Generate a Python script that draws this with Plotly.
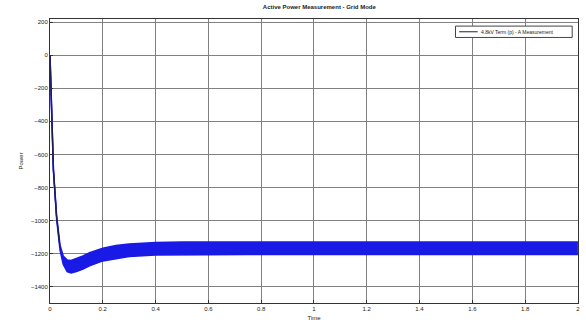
import plotly.graph_objects as go

time_s = [0.0, 0.013, 0.025, 0.038, 0.05, 0.065, 0.08, 0.1, 0.125, 0.15, 0.2, 0.25, 0.3, 0.4, 0.5, 0.75, 1.0, 1.5, 2.0]
power_upper = [0, -690, -970, -1150, -1215, -1240, -1242, -1232, -1215, -1195, -1168, -1152, -1142, -1133, -1130, -1130, -1130, -1130, -1130]
power_lower = [0, -700, -990, -1180, -1265, -1310, -1318, -1310, -1295, -1275, -1245, -1230, -1218, -1210, -1208, -1207, -1207, -1207, -1207]

x_ticks = [0, 0.2, 0.4, 0.6, 0.8, 1, 1.2, 1.4, 1.6, 1.8, 2]
x_tick_labels = ["0", "0.2", "0.4", "0.6", "0.8", "1", "1.2", "1.4", "1.6", "1.8", "2"]
y_ticks = [200, 0, -200, -400, -600, -800, -1000, -1200, -1400]

title_text = "Active Power Measurement - Grid Mode"
legend_name = "4.8kV Term (p) - A Measurement"

BLUE = "#1a1ae6"

fig = go.Figure()
fig.add_trace(go.Scatter(x=time_s, y=power_upper, mode="lines",
                         line=dict(color=BLUE, width=1.5),
                         showlegend=False, hoverinfo="skip"))
fig.add_trace(go.Scatter(x=time_s, y=power_lower, mode="lines",
                         line=dict(color=BLUE, width=1.5),
                         fill="tonexty", fillcolor=BLUE,
                         showlegend=False, hoverinfo="skip"))
# thin dark line for the initial transient
fig.add_trace(go.Scatter(x=time_s[:4], y=[(a + b) / 2 for a, b in zip(power_upper[:4], power_lower[:4])],
                         mode="lines", line=dict(color="#202040", width=1.2),
                         showlegend=False, hoverinfo="skip"))

# legend box drawn manually (compact, like the reference)
fig.add_shape(type="rect", xref="paper", yref="paper", x0=0.768, x1=0.989, y0=0.935, y1=0.975,
              line=dict(color="#444", width=1), fillcolor="white", layer="above")
fig.add_shape(type="line", xref="paper", yref="paper", x0=0.775, x1=0.81, y0=0.955, y1=0.955,
              line=dict(color="#202040", width=1), layer="above")
fig.add_annotation(xref="paper", yref="paper", x=0.813, y=0.955, xanchor="left", yanchor="middle",
                   text=legend_name, showarrow=False, font=dict(size=5, color="#222"))

fig.update_layout(
    width=586, height=327,
    margin=dict(l=50, r=8, t=19, b=24),
    paper_bgcolor="white", plot_bgcolor="white",
    showlegend=False,
    font=dict(family="Liberation Sans, Arial, sans-serif", size=6, color="#222"),
    title=dict(text="<b>" + title_text + "</b>", x=0.545, xanchor="center",
               y=0.985, yanchor="top", font=dict(size=6, color="#222")),
    xaxis=dict(range=[0, 2.0004], tickvals=x_ticks, ticktext=x_tick_labels,
               automargin=False,
               showgrid=True, gridcolor="#808080", gridwidth=1,
               showline=True, linecolor="#333", linewidth=1, mirror=True,
               ticks="inside", ticklen=3, tickcolor="#333",
               zeroline=False, title=dict(text="Time", standoff=4, font=dict(size=6))),
    yaxis=dict(range=[-1500, 220], tickvals=y_ticks,
               automargin=False,
               showgrid=True, gridcolor="#808080", gridwidth=1,
               showline=True, linecolor="#333", linewidth=1, mirror=True,
               ticks="inside", ticklen=3, tickcolor="#333",
               zeroline=False, title=dict(text="Power", standoff=6, font=dict(size=6))),
)

fig.write_html("out.html", config={"displayModeBar": False},
               post_script="document.body.style.margin='0';document.body.style.overflow='hidden';")
